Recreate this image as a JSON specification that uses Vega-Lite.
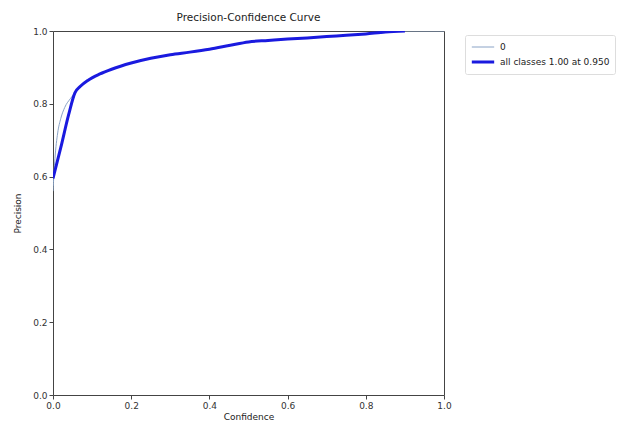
{
  "$schema": "https://vega.github.io/schema/vega-lite/v6.json",
  "width": 391,
  "height": 364,
  "autosize": "none",
  "padding": {"left": 53, "top": 31, "right": 195, "bottom": 30},
  "background": "white",
  "config": {
    "font": "DejaVu Sans",
    "view": {"stroke": "#444", "strokeWidth": 1},
    "axis": {"grid": false, "domain": false, "labelFlush": false, "tickColor": "#444", "tickSize": 4, "labelFontSize": 9, "labelColor": "#333", "titleFontSize": 9, "titleFontWeight": "normal", "titleColor": "#222"}
  },
  "title": {"text": "Precision-Confidence Curve", "fontSize": 10.5, "fontWeight": "normal", "color": "#222", "offset": 4},
  "data": {"values": [
    {"series": "0", "conf": 0.0, "prec": 0.56},
    {"series": "0", "conf": 0.005, "prec": 0.65},
    {"series": "0", "conf": 0.012, "prec": 0.72},
    {"series": "0", "conf": 0.02, "prec": 0.76},
    {"series": "0", "conf": 0.03, "prec": 0.79},
    {"series": "0", "conf": 0.045, "prec": 0.815},
    {"series": "0", "conf": 0.06, "prec": 0.835},
    {"series": "0", "conf": 0.07, "prec": 0.848},
    {"series": "0", "conf": 0.09, "prec": 0.865},
    {"series": "0", "conf": 0.12, "prec": 0.882},
    {"series": "0", "conf": 0.15, "prec": 0.895},
    {"series": "0", "conf": 0.2, "prec": 0.912},
    {"series": "0", "conf": 0.25, "prec": 0.925},
    {"series": "0", "conf": 0.3, "prec": 0.935},
    {"series": "0", "conf": 0.35, "prec": 0.942},
    {"series": "0", "conf": 0.4, "prec": 0.95},
    {"series": "0", "conf": 0.45, "prec": 0.96},
    {"series": "0", "conf": 0.5, "prec": 0.97},
    {"series": "0", "conf": 0.55, "prec": 0.974},
    {"series": "0", "conf": 0.6, "prec": 0.978},
    {"series": "0", "conf": 0.65, "prec": 0.981},
    {"series": "0", "conf": 0.7, "prec": 0.985},
    {"series": "0", "conf": 0.75, "prec": 0.988},
    {"series": "0", "conf": 0.8, "prec": 0.992},
    {"series": "0", "conf": 0.85, "prec": 0.997},
    {"series": "0", "conf": 0.9, "prec": 1.0},
    {"series": "0", "conf": 1.0, "prec": 1.0},
    {"series": "all classes 1.00 at 0.950", "conf": 0.0, "prec": 0.595},
    {"series": "all classes 1.00 at 0.950", "conf": 0.02, "prec": 0.68},
    {"series": "all classes 1.00 at 0.950", "conf": 0.04, "prec": 0.77},
    {"series": "all classes 1.00 at 0.950", "conf": 0.056, "prec": 0.83},
    {"series": "all classes 1.00 at 0.950", "conf": 0.07, "prec": 0.848},
    {"series": "all classes 1.00 at 0.950", "conf": 0.09, "prec": 0.865},
    {"series": "all classes 1.00 at 0.950", "conf": 0.12, "prec": 0.882},
    {"series": "all classes 1.00 at 0.950", "conf": 0.15, "prec": 0.895},
    {"series": "all classes 1.00 at 0.950", "conf": 0.2, "prec": 0.912},
    {"series": "all classes 1.00 at 0.950", "conf": 0.25, "prec": 0.925},
    {"series": "all classes 1.00 at 0.950", "conf": 0.3, "prec": 0.935},
    {"series": "all classes 1.00 at 0.950", "conf": 0.35, "prec": 0.942},
    {"series": "all classes 1.00 at 0.950", "conf": 0.4, "prec": 0.95},
    {"series": "all classes 1.00 at 0.950", "conf": 0.45, "prec": 0.96},
    {"series": "all classes 1.00 at 0.950", "conf": 0.5, "prec": 0.97},
    {"series": "all classes 1.00 at 0.950", "conf": 0.55, "prec": 0.974},
    {"series": "all classes 1.00 at 0.950", "conf": 0.6, "prec": 0.978},
    {"series": "all classes 1.00 at 0.950", "conf": 0.65, "prec": 0.981},
    {"series": "all classes 1.00 at 0.950", "conf": 0.7, "prec": 0.985},
    {"series": "all classes 1.00 at 0.950", "conf": 0.75, "prec": 0.988},
    {"series": "all classes 1.00 at 0.950", "conf": 0.8, "prec": 0.992},
    {"series": "all classes 1.00 at 0.950", "conf": 0.85, "prec": 0.997},
    {"series": "all classes 1.00 at 0.950", "conf": 0.9, "prec": 1.0}
  ]},
  "mark": {"type": "line", "interpolate": "monotone", "clip": true},
  "encoding": {
    "x": {"field": "conf", "type": "quantitative", "title": "Confidence", "scale": {"domain": [0, 1], "nice": false}, "axis": {"values": [0, 0.2, 0.4, 0.6, 0.8, 1.0], "format": ".1f", "titlePadding": 2, "labelPadding": 2}},
    "y": {"field": "prec", "type": "quantitative", "title": "Precision", "scale": {"domain": [0, 1], "nice": false}, "axis": {"values": [0, 0.2, 0.4, 0.6, 0.8, 1.0], "format": ".1f", "titlePadding": 10, "labelPadding": 2}},
    "color": {"field": "series", "type": "nominal", "scale": {"domain": ["0", "all classes 1.00 at 0.950"], "range": ["#8aa3c6", "#1a1adf"]}, "legend": {"title": null, "orient": "none", "legendX": 412, "legendY": 4, "labelFontSize": 9, "labelColor": "#222", "symbolType": "stroke", "symbolSize": 500, "clipHeight": 14, "strokeColor": "#ddd", "padding": 5, "rowPadding": 1, "cornerRadius": 2, "fillColor": "white"}},
    "strokeWidth": {"field": "series", "type": "nominal", "scale": {"domain": ["0", "all classes 1.00 at 0.950"], "range": [1, 3]}, "legend": {"title": null, "orient": "none", "legendX": 412, "legendY": 4, "labelFontSize": 9, "symbolType": "stroke", "symbolSize": 500, "clipHeight": 14}}
  }
}
